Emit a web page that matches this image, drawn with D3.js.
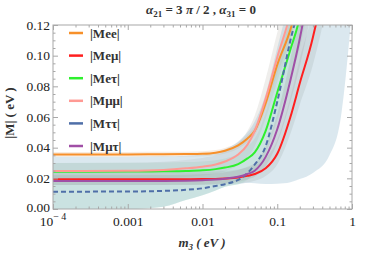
<!DOCTYPE html>
<html>
<head>
<meta charset="utf-8">
<script src="https://cdn.jsdelivr.net/npm/d3@7"></script>
<style>
  body { margin: 0; background: #fff; }
</style>
</head>
<body>
<div id="chart"></div>
<script>
// m3 sample points (eV) shared by every curve and band
const m3 = [1e-4, 1e-3, 3e-3, 0.006, 0.01, 0.015, 0.02, 0.03, 0.04, 0.05, 0.07, 0.1, 0.15, 0.2, 0.3, 0.5, 0.7, 1];

// central values |M| (eV)
const meeMid = [0.0356,0.0356,0.0357,0.0358,0.0360,0.0367,0.0380,0.0415,0.046,0.051,0.069,0.094,0.117,0.14,0.19,0.3,0.4,0.6];
const memMid = [0.0194,0.0194,0.0194,0.0194,0.0195,0.0196,0.0199,0.0206,0.0216,0.0228,0.0265,0.036,0.06,0.082,0.112,0.17,0.24,0.33];
const metMid = [0.0243,0.0244,0.0246,0.0248,0.0252,0.026,0.027,0.0293,0.033,0.037,0.051,0.076,0.104,0.125,0.18,0.28,0.4,0.55];
const mmmMid = [0.0248,0.025,0.0255,0.0265,0.0276,0.029,0.031,0.0355,0.042,0.051,0.072,0.099,0.128,0.16,0.22,0.35,0.5,0.7];
const mttMid = [0.0113,0.0114,0.0118,0.0125,0.0135,0.015,0.0162,0.019,0.0235,0.029,0.041,0.07,0.11,0.135,0.19,0.3,0.42,0.6];
const mmtMid = [0.0182,0.0182,0.0183,0.0185,0.0188,0.0192,0.0198,0.021,0.0228,0.025,0.034,0.052,0.084,0.111,0.16,0.25,0.35,0.5];

// uncertainty bands (lower / upper edges)
const meeLo = [0.034,0.034,0.0341,0.0342,0.0344,0.035,0.0362,0.0395,0.0435,0.048,0.065,0.088,0.11,0.132,0.18,0.28,0.38,0.56];
const meeHi = [0.0372,0.0372,0.0373,0.0374,0.0376,0.0384,0.0398,0.0435,0.0485,0.054,0.073,0.1,0.124,0.148,0.2,0.32,0.42,0.64];
const memLo = [0.0156,0.0156,0.0156,0.0156,0.0157,0.0158,0.016,0.0166,0.0174,0.0184,0.0215,0.029,0.049,0.068,0.094,0.145,0.2,0.28];
const memHi = [0.024,0.024,0.024,0.024,0.0242,0.0244,0.0248,0.0257,0.027,0.0285,0.033,0.045,0.073,0.098,0.13,0.2,0.28,0.38];
const metLo = [0,0,0.0015,0.0058,0.009,0.012,0.0145,0.0162,0.019,0.024,0.036,0.058,0.085,0.105,0.15,0.23,0.33,0.45];
const metHi = [0.030,0.0301,0.0303,0.0306,0.031,0.0318,0.033,0.036,0.041,0.046,0.063,0.093,0.125,0.15,0.21,0.33,0.47,0.65];
const mmmLo = [0.0195,0.0196,0.02,0.0208,0.0218,0.023,0.0247,0.0285,0.034,0.041,0.059,0.083,0.11,0.14,0.19,0.3,0.43,0.6];
const mmmHi = [0.030,0.0302,0.0308,0.032,0.0333,0.035,0.0375,0.043,0.051,0.061,0.085,0.115,0.145,0.18,0.25,0.4,0.55,0.8];
const mttLo = [0,0,0.0015,0.0058,0.009,0.012,0.0145,0.0162,0.017,0.0168,0.0163,0.0165,0.0175,0.0195,0.0235,0.035,0.058,0.13];
const mttHi = [0.034,0.0341,0.0344,0.0348,0.0355,0.037,0.039,0.044,0.05,0.057,0.075,0.105,0.14,0.17,0.24,0.38,0.5,0.7];
const mmtLo = [0.0156,0.0156,0.0157,0.0158,0.016,0.0163,0.0168,0.0178,0.0193,0.021,0.028,0.043,0.07,0.093,0.135,0.21,0.3,0.42];
const mmtHi = [0.022,0.022,0.0221,0.0223,0.0227,0.0232,0.024,0.0254,0.0275,0.030,0.041,0.062,0.098,0.13,0.185,0.29,0.4,0.58];

const names = ["|Mee|", "|Meμ|", "|Meτ|", "|Mμμ|", "|Mττ|", "|Mμτ|"];
const colors = ["#f7902a", "#ff1f1f", "#2ef02e", "#ff9a94", "#4f6fa8", "#a04fa6"];
const bandFills = ["#e0a870", "#9c9a92", "#9ee0b4", "#b0a8a0", "#9cbed4", "#9c9a9c"];
const bandOpacity = [0.22, 0.22, 0.28, 0.2, 0.36, 0.22];

const xTickVals = [1e-4, 1e-3, 1e-2, 1e-1, 1];
const xTickText = [null, "0.001", "0.01", "0.1", "1"];
const yTickVals = [0, 0.02, 0.04, 0.06, 0.08, 0.10, 0.12];

const serif = "'Liberation Serif', 'DejaVu Serif', serif";

const series = [
  { mid: meeMid, lo: meeLo, hi: meeHi },
  { mid: memMid, lo: memLo, hi: memHi },
  { mid: metMid, lo: metLo, hi: metHi },
  { mid: mmmMid, lo: mmmLo, hi: mmmHi },
  { mid: mttMid, lo: mttLo, hi: mttHi },
  { mid: mmtMid, lo: mmtLo, hi: mmtHi }
].map((s, i) => ({ ...s, name: names[i], color: colors[i], fill: bandFills[i], op: bandOpacity[i] }));

const W = 374, H = 254;
const x = d3.scaleLog().domain([1e-4, 1]).range([53, 352]);
const y = d3.scaleLinear().domain([0, 0.12]).range([209, 25]);

const svg = d3.select("#chart").append("svg")
  .attr("width", W).attr("height", H);

svg.append("defs").append("clipPath").attr("id", "plot")
  .append("rect")
    .attr("x", x.range()[0]).attr("y", y.range()[1])
    .attr("width", x.range()[1] - x.range()[0])
    .attr("height", y.range()[0] - y.range()[1]);

const plot = svg.append("g").attr("clip-path", "url(#plot)");

/* bands first, then the lines on top */
const area = d3.area()
  .x((d, i) => x(m3[i]))
  .y0(d => y(d[0]))
  .y1(d => y(d[1]))
  .curve(d3.curveMonotoneX);

const line = d3.line()
  .x((d, i) => x(m3[i]))
  .y(d => y(d))
  .curve(d3.curveMonotoneX);

plot.selectAll(".band")
  .data(series)
  .enter()
    .append("path")
      .attr("class", "band")
      .attr("d", s => area(s.lo.map((v, i) => [v, s.hi[i]])))
      .style("fill", s => s.fill)
      .style("fill-opacity", s => s.op)
      .style("stroke", "none");

plot.selectAll(".curve")
  .data(series)
  .enter()
    .append("path")
      .attr("class", "curve")
      .attr("d", s => line(s.mid))
      .style("fill", "none")
      .style("stroke", s => s.color)
      .style("stroke-width", 2)
      .style("stroke-dasharray", s => s.name === "|Mττ|" ? "5,3" : null);

/* frame with inward ticks on all four sides */
const frameColor = "#a8a8a8";
const axes = svg.append("g");

const xb = axes.append("g").attr("transform", `translate(0,${y.range()[0]})`)
  .call(d3.axisBottom(x).tickValues(xTickVals).tickSize(-5).tickPadding(7)
    .tickFormat((d, i) => xTickText[i] || ""));
axes.append("g").attr("transform", `translate(0,${y.range()[1]})`)
  .call(d3.axisTop(x).tickValues(xTickVals).tickSize(-5).tickFormat(""));
const xMinor = x.ticks().filter(v => xTickVals.indexOf(v) < 0);
axes.append("g").attr("transform", `translate(0,${y.range()[0]})`)
  .call(d3.axisBottom(x).tickValues(xMinor).tickSize(-2.5).tickFormat(""));
axes.append("g").attr("transform", `translate(0,${y.range()[1]})`)
  .call(d3.axisTop(x).tickValues(xMinor).tickSize(-2.5).tickFormat(""));

const yl = axes.append("g").attr("transform", `translate(${x.range()[0]},0)`)
  .call(d3.axisLeft(y).tickValues(yTickVals).tickSize(-5).tickPadding(3).tickFormat(d3.format(".2f")));
axes.append("g").attr("transform", `translate(${x.range()[1]},0)`)
  .call(d3.axisRight(y).tickValues(yTickVals).tickSize(-5).tickFormat(""));
const yMinor = d3.range(0.005, 0.12, 0.005).filter(v => Math.abs(v / 0.02 - Math.round(v / 0.02)) > 1e-6);
axes.append("g").attr("transform", `translate(${x.range()[0]},0)`)
  .call(d3.axisLeft(y).tickValues(yMinor).tickSize(-2.5).tickFormat(""));
axes.append("g").attr("transform", `translate(${x.range()[1]},0)`)
  .call(d3.axisRight(y).tickValues(yMinor).tickSize(-2.5).tickFormat(""));

axes.selectAll(".domain").remove();
axes.selectAll(".tick line").attr("stroke", frameColor);
axes.selectAll("text").attr("fill", "#222")
  .style("font-family", serif).style("font-size", "13.5px");
/* nudge the lowest y label up so it clears the 10^-4 label below it */
yl.selectAll(".tick text").filter(d => d === 0).attr("dy", "0.2em");

svg.append("rect")
  .attr("x", x.range()[0]).attr("y", y.range()[1])
  .attr("width", x.range()[1] - x.range()[0])
  .attr("height", y.range()[0] - y.range()[1])
  .style("fill", "none").style("stroke", frameColor).style("stroke-width", 1);

/* 10^-4 label with superscript */
const sup = xb.append("text")
  .attr("x", x(1e-4)).attr("y", 16.5)
  .attr("text-anchor", "middle").attr("fill", "#222")
  .style("font-family", serif).style("font-size", "13.5px");
sup.append("tspan").text("10");
sup.append("tspan").attr("dy", -6).style("font-size", "10px").text("\u2212 4");

/* legend */
const legend = svg.append("g").attr("transform", "translate(69,33)");
const rows = legend.selectAll(".row")
  .data(series)
  .enter()
    .append("g")
      .attr("transform", (d, i) => `translate(0,${i * 22.6})`);
rows.append("line")
  .attr("x1", 0).attr("x2", 14).attr("y1", 0).attr("y2", 0)
  .style("stroke", d => d.color).style("stroke-width", 2.5);
rows.append("text")
  .attr("x", 21).attr("y", 4.5)
  .style("font-family", serif)
  .style("font-size", "13px").style("font-weight", "bold").attr("fill", "#333")
  .text(d => d.name);

/* title and axis labels */
const title = svg.append("text")
  .attr("x", 201).attr("y", 14)
  .attr("text-anchor", "middle")
  .style("font-family", serif)
  .style("font-size", "13px").style("font-weight", "bold").attr("fill", "#333");
title.append("tspan").style("font-style", "italic").text("α");
title.append("tspan").attr("dy", 3).style("font-size", "9px").text("21");
title.append("tspan").attr("dy", -3).text(" = 3 ");
title.append("tspan").style("font-style", "italic").text("π");
title.append("tspan").text(" / 2 ,  ");
title.append("tspan").style("font-style", "italic").text("α");
title.append("tspan").attr("dy", 3).style("font-size", "9px").text("31");
title.append("tspan").attr("dy", -3).text(" = 0");

const xlab = svg.append("text")
  .attr("x", 202).attr("y", 247)
  .attr("text-anchor", "middle")
  .style("font-family", serif)
  .style("font-size", "13px").style("font-weight", "bold").style("font-style", "italic").attr("fill", "#333");
xlab.append("tspan").text("m");
xlab.append("tspan").attr("dy", 3).style("font-size", "9px").text("3");
xlab.append("tspan").attr("dy", -3).text("  ( eV )");

svg.append("text")
  .attr("transform", "translate(14,113) rotate(-90)")
  .attr("text-anchor", "middle")
  .style("font-family", serif)
  .style("font-size", "13px").style("font-weight", "bold").attr("fill", "#333")
  .text("|M|  ( eV )");
</script>
</body>
</html>
